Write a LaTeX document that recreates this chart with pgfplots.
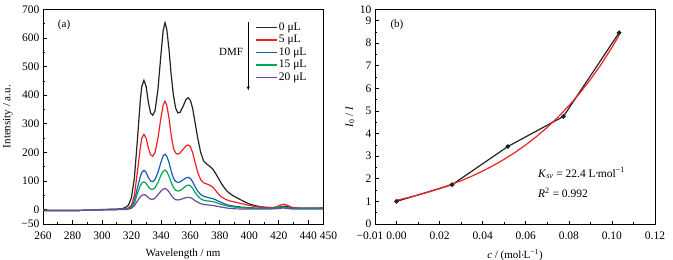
\documentclass[border=0pt]{standalone}
\usepackage{fontspec}
\setmainfont{Liberation Serif}
\usepackage{graphicx}
\usepackage{pgfplots}
\pgfplotsset{compat=1.18}
\usetikzlibrary{arrows.meta}
\definecolor{cred}{RGB}{238,32,36}
\definecolor{cblue}{RGB}{30,90,180}
\definecolor{cgreen}{RGB}{0,166,80}
\definecolor{cpurp}{RGB}{112,72,160}
\definecolor{cblack}{RGB}{35,35,35}
\pgfplotsset{
  myaxis/.style={
    scale only axis, anchor=south west,
    height=214.7bp,
    axis line style={line width=0.9bp},
    tick align=inside,
    major tick length=3.5bp, minor tick length=2bp,
    every tick/.style={line width=0.7bp, black},
    xtick pos=bottom, ytick pos=left,
    tick label style={font=\fontsize{11.5bp}{13bp}\selectfont},
    xticklabel style={yshift=-4.5bp},
    label style={font=\fontsize{11bp}{13bp}\selectfont},
    ylabel style={anchor=center},
  }
}
\newcommand{\mdot}{\raisebox{0.2ex}{\scalebox{0.55}{•}}}
\begin{document}
\begin{tikzpicture}
\useasboundingbox (0,0) rectangle (673bp,260bp);
% ---------- panel (a)
\begin{axis}[myaxis, at={(43bp,36bp)}, width=280bp,
  xmin=260, xmax=450, ymin=-50, ymax=700,
  xtick={260,280,300,320,340,360,380,400,420,440,450},
  xticklabels={260,280,300,320,340,360,380,400,420,440,\hspace*{11bp}450},
  minor xtick={270,290,310,330,350,370,390,410,430},
  ytick={-50,0,100,200,300,400,500,600,700},
  yticklabels={−50,0,100,200,300,400,500,600,700},
  minor ytick={50,150,250,350,450,550,650},
  xlabel={Wavelength / nm},
  ylabel={Intensity / a.u.},
  xlabel style={at={(axis description cs:0.5,-0.138)}, anchor=center},
  ylabel style={at={(axis description cs:-0.125,0.5)}},
  legend style={at={(axis description cs:0.758,0.94)}, anchor=north west,
    draw=none, fill=none, inner sep=0pt, outer sep=0pt, row sep=2bp,
    font=\fontsize{11.5bp}{13bp}\selectfont,
    nodes={text height=8bp, text depth=2.5bp, inner xsep=1.5bp, inner ysep=0pt}},
  legend image code/.code={\draw[#1, line width=1.2bp] (0bp,0bp) -- (21bp,0bp);},
  legend cell align=left,
  every axis plot/.append style={line width=1.2bp},
]
\addplot[cblack] coordinates {
(260,-3)(270,-3)(280,-3)(290,-2)(295,-1)(300,1)(305,1)(310,2)(314,4)(316,8)(318,16)(320,42)(322,110)(324,240)(326,380)(327,430)(328.5,452)(330,430)(331.5,375)(333,338)(334.5,330)(336,345)(338,420)(340,540)(341.5,625)(342.8,653)(344,630)(345.5,560)(347,470)(348.5,400)(350,355)(351.5,338)(353,340)(355,360)(357,385)(358.5,391)(360,382)(361.5,355)(363,310)(365,250)(367,200)(369,170)(371,160)(373,152)(375,143)(377,128)(379,110)(381,92)(383,77)(385,64)(388,52)(391,43)(394,35)(397,27)(400,20)(404,14)(408,10)(412,8)(416,7)(419,8)(422,11)(424,12)(426,10)(429,6)(435,5)(440,5)(445,5)(450,6)};
\addplot[cred] coordinates {
(260,-3)(270,-3)(280,-3)(290,-2)(295,-1)(300,0)(310,1)(316,3)(318,6)(320,15)(322,50)(324,130)(326,215)(327,250)(328.5,263)(330,250)(331.5,215)(333,192)(334.5,187)(336,200)(338,250)(340,320)(341.5,365)(342.8,379)(344,365)(345.5,320)(347,260)(348.5,215)(350,198)(351.5,194)(353,198)(355,210)(357,223)(358.5,226)(360,220)(361.5,200)(363,170)(365,130)(367,105)(369,94)(371,90)(373,86)(375,80)(377,68)(379,55)(381,45)(384,36)(387,30)(390,27)(394,22)(398,17)(402,13)(406,10)(410,8)(414,7)(418,9)(421,16)(423.5,19)(426,15)(429,8)(435,5)(440,5)(450,5)};
\addplot[cblue] coordinates {
(260,-3)(270,-3)(280,-3)(290,-2)(295,-1)(300,0)(310,1)(316,2)(318,4)(320,10)(322,30)(324,75)(326,115)(327,130)(328.5,138)(330,130)(331.5,112)(333,100)(334.5,98)(336,105)(338,130)(340,165)(341.5,188)(342.8,194)(344,187)(345.5,165)(347,135)(348.5,110)(350,99)(351.5,95)(353,97)(355,104)(357,111)(358.5,113)(360,109)(361.5,98)(363,82)(365,65)(367,53)(369,47)(371,44)(373,41)(375,39)(377,35)(379,30)(382,23)(385,17)(390,12)(395,9)(400,7)(405,6)(410,5)(415,5)(419,7)(423,10)(426,8)(430,5)(440,5)(450,5)};
\addplot[cgreen] coordinates {
(260,-3)(270,-3)(280,-3)(290,-2)(295,-1)(300,0)(310,1)(316,2)(318,3)(320,8)(322,22)(324,55)(326,83)(327,93)(328.5,97)(330,92)(331.5,80)(333,72)(334.5,71)(336,76)(338,95)(340,120)(341.5,134)(342.8,138)(344,133)(345.5,117)(347,95)(348.5,78)(350,68)(351.5,65)(353,67)(355,74)(357,83)(358.5,86)(360,84)(361.5,75)(363,62)(365,48)(367,38)(369,33)(371,31)(373,30)(375,28)(377,26)(379,22)(382,17)(385,13)(390,9)(395,7)(400,5)(410,4)(418,5)(423,9)(426,7)(430,4)(440,4)(450,4)};
\addplot[cpurp] coordinates {
(260,-3)(270,-3)(280,-3)(290,-2)(295,-1)(300,0)(310,0)(316,1)(318,2)(320,5)(322,14)(324,30)(326,45)(327,50)(328.5,53)(330,50)(331.5,42)(333,37)(334.5,36)(336,40)(338,52)(340,65)(341.5,72)(342.8,74)(344,71)(345.5,62)(347,50)(348.5,40)(350,35)(351.5,34)(353,35)(355,39)(357,42)(358.5,43)(360,42)(361.5,38)(363,32)(365,26)(367,21)(369,18)(371,17)(373,16)(375,15)(378,12)(382,8)(386,5)(390,3)(400,2)(410,2)(418,3)(423,6)(426,4)(430,2)(440,2)(450,2)};
\legend{0 μL,5 μL,10 μL,15 μL,20 μL}
\draw[line width=0.7bp, -{Stealth[length=4bp,width=3bp]}] (axis cs:399.3,656) -- (axis cs:399.3,417);
\node[font=\fontsize{11bp}{13bp}\selectfont] at (axis cs:387.6,550) {DMF};
\node[font=\fontsize{11bp}{13bp}\selectfont] at (axis cs:274.3,644) {(a)};
\end{axis}
% ---------- panel (b)
\begin{axis}[myaxis, at={(375bp,36bp)}, width=280bp,
  xmin=-0.01, xmax=0.12, ymin=0, ymax=9.5,
  xtick={-0.01,0,0.02,0.04,0.06,0.08,0.10,0.12},
  xticklabels={−0.01\hspace*{10bp},0.00,0.02,0.04,0.06,0.08,0.10,0.12},
  minor xtick={0.01,0.03,0.05,0.07,0.09,0.11},
  ytick={0,1,2,3,4,5,6,7,8,9,9.5},
  yticklabels={0,1,2,3,4,5,6,7,8,9,10},
  minor ytick={0.5,1.5,2.5,3.5,4.5,5.5,6.5,7.5,8.5},
  xlabel={\textit{c} / (mol\mdot L\textsuperscript{−1})},
  ylabel={\textit{I}\textsubscript{0} / \textit{I}},
  ylabel style={at={(axis description cs:-0.089,0.5)}},
  xlabel style={at={(axis description cs:0.5,-0.145)}, anchor=center},
]
\addplot[cblack, line width=1.2bp, mark=*, mark size=1.7bp] coordinates {
(0,1.00)(0.0258,1.74)(0.0517,3.43)(0.0775,4.76)(0.1033,8.46)};
\addplot[cred, line width=1.2bp] coordinates {
(0,1.05)(0.005,1.161)(0.01,1.283)(0.015,1.419)(0.02,1.569)(0.025,1.734)(0.03,1.917)(0.035,2.120)(0.04,2.343)(0.045,2.591)(0.05,2.864)(0.055,3.167)(0.06,3.501)(0.065,3.870)(0.07,4.279)(0.075,4.731)(0.08,5.230)(0.085,5.782)(0.09,6.392)(0.095,7.067)(0.1,7.814)(0.1033,8.348)};
\node[font=\fontsize{11.5bp}{13bp}\selectfont, anchor=west] at (axis cs:0.0641,2.25) {\textit{K}\textsubscript{\textit{sv}} = 22.4 L\mdot mol\textsuperscript{−1}};
\node[font=\fontsize{11.5bp}{13bp}\selectfont, anchor=west] at (axis cs:0.0641,1.37) {\textit{R}\textsuperscript{2} = 0.992};
\node[font=\fontsize{11bp}{13bp}\selectfont] at (axis cs:0.0002,8.79) {(b)};
\end{axis}
\end{tikzpicture}
\end{document}
